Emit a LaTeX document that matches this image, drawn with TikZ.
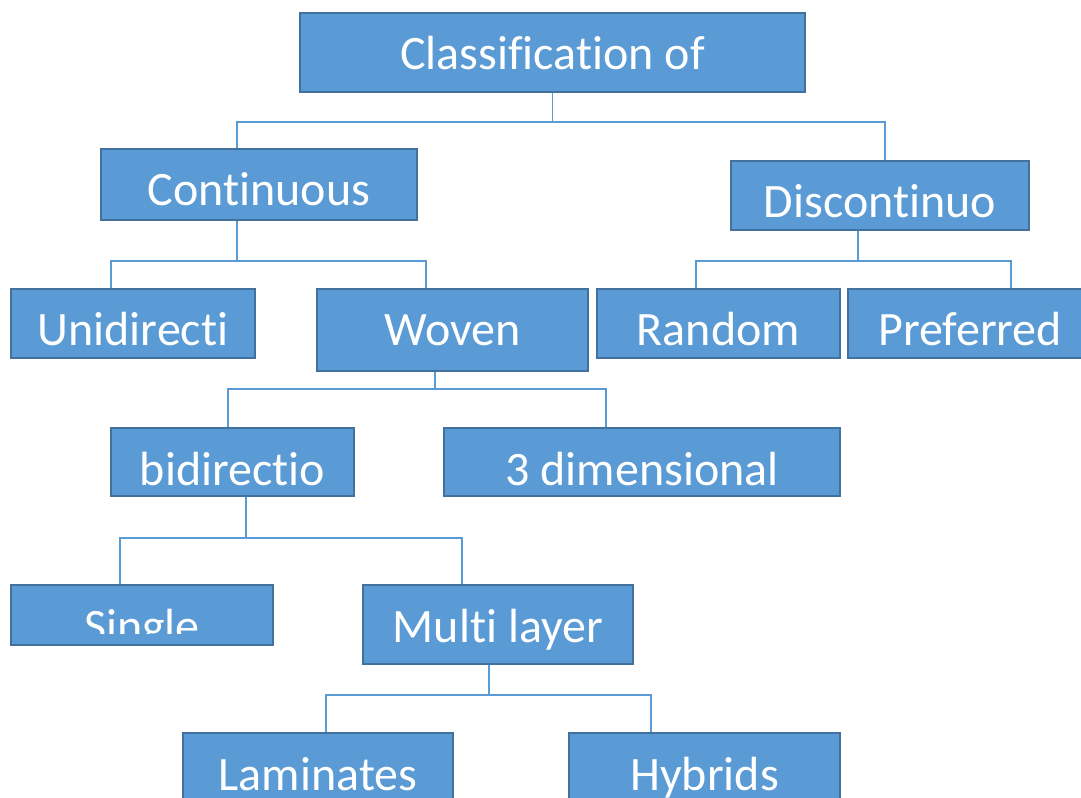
\documentclass[tikz,border=0pt]{standalone}
\usepackage{fontspec}
\setmainfont[Ligatures=NoCommon]{Carlito}
\usetikzlibrary{calc}
\definecolor{boxfill}{HTML}{5B9BD5}
\definecolor{boxline}{HTML}{41719C}
\tikzset{
  box/.style={draw=boxline,line width=1.5pt,fill=boxfill,text=white,inner sep=0pt,
    anchor=north west,font=\fontsize{36}{36}\selectfont,text height=42.75pt},
  link/.style={draw=boxfill,line width=0.9pt},
}
\begin{document}
\begin{tikzpicture}[x=0.75pt,y=-0.75pt]
\clip(0,0)rectangle(1081,798);
\fill[white](0,0)rectangle(1081,798);
%
\node[box,minimum width=378.75pt,text depth=16.5pt](cls)at(299,12){Classification of};
\node[box,minimum width=237pt,text depth=10.5pt](cont)at(100,148){Continuous};
\node[box,minimum width=223.5pt,text depth=9pt](disc)at(730,160){Discontinuo};
\node[box,minimum width=183pt,text depth=9pt](uni)at(10,288){Unidirecti};
\node[box,minimum width=203.25pt,text depth=18.75pt](wov)at(316,288){Woven};
\node[box,minimum width=182.25pt,text depth=9pt](rand)at(596,288){Random};
\node[box,minimum width=183pt,text depth=9pt](pref)at(847,288){Preferred};
\node[box,minimum width=182.25pt,text depth=8.25pt](bid)at(110,427){bidirectio};
\node[box,minimum width=297pt,text depth=8.25pt](dim)at(443,427){3 dimensional};
\node[box,minimum width=196.5pt,minimum height=45pt,
  path picture={\clip(path picture bounding box.north west)rectangle([yshift=9pt]path picture bounding box.south east);
    \node[anchor=base,text=white,font=\fontsize{36}{36}\selectfont]at([yshift=-42.75pt]path picture bounding box.north){Single};}](single)at(10,584){};
\node[box,minimum width=202.5pt,text depth=16.5pt](multi)at(362,584){Multi layer};
\node[box,minimum width=202.5pt,text depth=15.75pt](lam)at(182,732){Laminates};
\node[box,minimum width=203.25pt,text depth=15.75pt](hyb)at(568,732){Hybrids};
%
\draw[link](cls.south)--++(0,29)coordinate(j1);
\draw[link]($(cont.north)+(-22,0)$)|-(j1)-|($(disc.north)+(5,0)$);
\draw[link]($(cont.south)+(-22,0)$)--++(0,40)coordinate(j2);
\draw[link]($(uni.north)+(-22,0)$)|-(j2)-|($(wov.north)+(-26.5,0)$);
\draw[link]($(disc.south)+(-22,0)$)--++(0,30)coordinate(j3);
\draw[link]($(rand.north)+(-22.5,0)$)|-(j3)-|($(pref.north)+(41,0)$);
\draw[link]($(wov.south)+(-17.5,0)$)--++(0,17)coordinate(j4);
\draw[link]($(bid.north)+(-4.5,0)$)|-(j4)-|($(dim.north)+(-36,0)$);
\draw[link]($(bid.south)+(13.5,0)$)--++(0,41)coordinate(j5);
\draw[link]($(single.north)+(-22,0)$)|-(j5)-|($(multi.north)+(-36,0)$);
\draw[link]($(multi.south)+(-9,0)$)--++(0,30)coordinate(j6);
\draw[link]($(lam.north)+(8,0)$)|-(j6)-|($(hyb.north)+(-53.5,0)$);
\end{tikzpicture}
\end{document}
